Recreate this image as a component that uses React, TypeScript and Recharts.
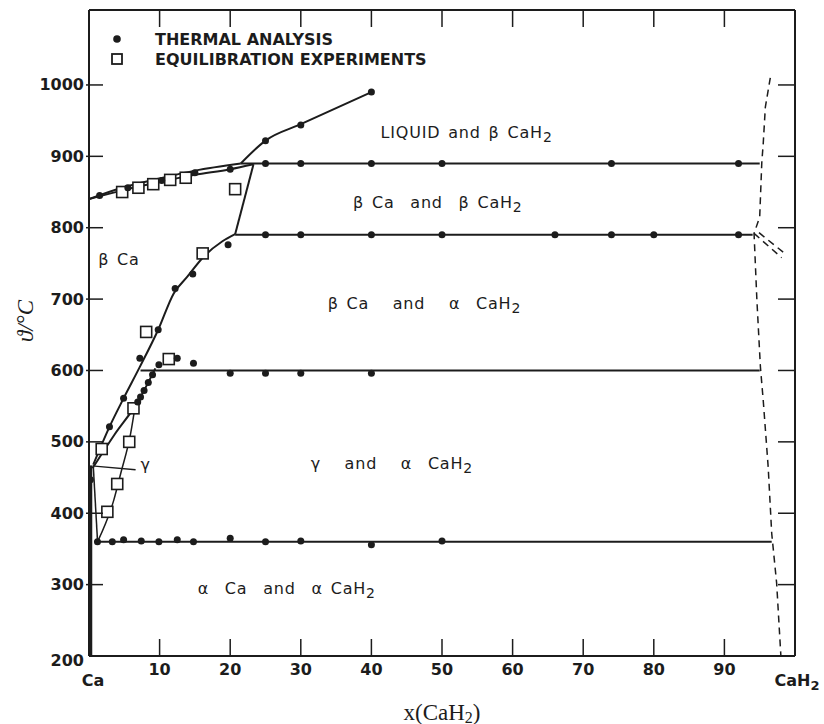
import React from 'react';
import { ComposedChart, Line, Scatter, XAxis, YAxis, Legend, ReferenceDot, Label } from 'recharts';

const INK = '#1c1c1c';
const SANS = '"DejaVu Sans", Verdana, sans-serif';
const SERIF = '"Liberation Serif", "DejaVu Serif", serif';

// composition in mol-% CaH2, temperature in °C
const xTicks = [0, 10, 20, 30, 40, 50, 60, 70, 80, 90, 100];
const yTicks = [200, 300, 400, 500, 600, 700, 800, 900, 1000];
const frameXTicks = [10, 20, 30, 40, 50, 60, 70, 80, 90];
const frameYTicks = [300, 400, 500, 600, 700, 800, 900, 1000];

// phase boundaries
const liquidusBeta = [
  { x: 0, t: 840 }, { x: 5, t: 857 }, { x: 10, t: 869 }, { x: 15, t: 880 }, { x: 21.5, t: 890 },
];
const solidusBeta = [
  { x: 0, t: 840 }, { x: 5, t: 853 }, { x: 10, t: 864 }, { x: 15, t: 874 }, { x: 20, t: 882 }, { x: 23.3, t: 889 },
];
const liquidusHydride = [
  { x: 21.5, t: 890 }, { x: 25, t: 922 }, { x: 30, t: 945 }, { x: 40, t: 990 },
];
const line890 = [{ x: 21.5, t: 890 }, { x: 95, t: 890 }];
const betaEdge = [{ x: 23.3, t: 889 }, { x: 20.7, t: 791 }];
const line790 = [{ x: 20.7, t: 790 }, { x: 94, t: 790 }];
const betaSolvus = [
  { x: 0.6, t: 468 }, { x: 2.9, t: 521 }, { x: 4.9, t: 561 }, { x: 7.2, t: 605 }, { x: 9.8, t: 657 },
  { x: 12, t: 708 }, { x: 13.9, t: 731 }, { x: 16.2, t: 759 }, { x: 18.9, t: 781 }, { x: 20.7, t: 791 },
];
const line600 = [{ x: 7.3, t: 600 }, { x: 95, t: 600 }];
const gammaUpper = [{ x: 0.5, t: 463 }, { x: 3.6, t: 510 }, { x: 6.9, t: 556 }, { x: 9.4, t: 603 }];
const gammaLower = [{ x: 1.3, t: 362 }, { x: 3.5, t: 418 }, { x: 4.5, t: 456 }, { x: 5.9, t: 512 }, { x: 6.6, t: 554 }];
const alphaEdge = [{ x: 0.6, t: 467 }, { x: 1.2, t: 362 }];
const alphaCa = [{ x: 0.25, t: 467 }, { x: 0.25, t: 200 }];
const gammaPointer = [{ x: 0.8, t: 466 }, { x: 6.6, t: 461 }];
const line360 = [{ x: 1.2, t: 360 }, { x: 96.7, t: 360 }];
const hydrideBoundary = [
  { x: 96.5, t: 1010 }, { x: 95.8, t: 969 }, { x: 95.5, t: 918 }, { x: 95.3, t: 892 }, { x: 95, t: 815 },
  { x: 94.2, t: 792 }, { x: 94.6, t: 699 }, { x: 95.1, t: 605 }, { x: 95.5, t: 558 }, { x: 96.2, t: 465 },
  { x: 96.7, t: 372 }, { x: 97.4, t: 302 }, { x: 98, t: 200 },
];
const hydrideFanA = [{ x: 94.2, t: 792 }, { x: 98.1, t: 758 }];
const hydrideFanB = [{ x: 94.9, t: 793 }, { x: 98.8, t: 762 }];

// measurements
const thermalAnalysis = [
  { x: 1.5, t: 845 }, { x: 5.5, t: 856 }, { x: 10.3, t: 866 }, { x: 15, t: 877 }, { x: 20, t: 882 },
  { x: 25, t: 922 }, { x: 30, t: 944 }, { x: 40, t: 990 },
  { x: 25, t: 890 }, { x: 30, t: 890 }, { x: 40, t: 890 }, { x: 50, t: 890 }, { x: 74, t: 890 }, { x: 92, t: 890 },
  { x: 25, t: 790 }, { x: 30, t: 790 }, { x: 40, t: 790 }, { x: 50, t: 790 }, { x: 66, t: 790 }, { x: 74, t: 790 },
  { x: 80, t: 790 }, { x: 92, t: 790 },
  { x: 19.7, t: 776 }, { x: 14.7, t: 735 }, { x: 12.2, t: 715 }, { x: 9.8, t: 657 }, { x: 7.2, t: 617 },
  { x: 4.9, t: 561 }, { x: 2.9, t: 521 },
  { x: 9.9, t: 608 }, { x: 12.5, t: 617 }, { x: 14.8, t: 610 },
  { x: 20, t: 596 }, { x: 25, t: 596 }, { x: 30, t: 596 }, { x: 40, t: 596 },
  { x: 9, t: 594 }, { x: 8.4, t: 583 }, { x: 7.8, t: 572 }, { x: 7.3, t: 563 }, { x: 6.9, t: 556 },
  { x: 0.2, t: 447 },
  { x: 1.2, t: 360 }, { x: 3.3, t: 360 }, { x: 4.9, t: 363 }, { x: 7.4, t: 361 }, { x: 9.9, t: 360 },
  { x: 12.5, t: 363 }, { x: 14.8, t: 360 }, { x: 20, t: 365 }, { x: 25, t: 360 }, { x: 30, t: 361 },
  { x: 40, t: 356 }, { x: 50, t: 361 },
];
const equilibration = [
  { x: 4.7, t: 850 }, { x: 7, t: 856 }, { x: 9.1, t: 861 }, { x: 11.5, t: 867 }, { x: 13.7, t: 870 },
  { x: 20.7, t: 854 }, { x: 16.1, t: 764 }, { x: 8.1, t: 654 }, { x: 11.3, t: 616 },
  { x: 6.3, t: 547 }, { x: 5.7, t: 500 }, { x: 4, t: 441 }, { x: 2.6, t: 402 }, { x: 1.8, t: 490 },
];

const Dot = (p: any) => <circle cx={p.cx} cy={p.cy} r={3.5} fill={INK} />;
const Box = (p: any) => (
  <rect x={p.cx - 5.5} y={p.cy - 5.5} width={11} height={11} fill="#fff" stroke={INK} strokeWidth={1.6} />
);

const tickText = { fontFamily: SANS, fontSize: 16, fontWeight: 'bold' as const, fill: INK };

function LeftTick(props: any) {
  const { x, y, payload } = props;
  return (
    <g>
      {payload.value > 200 && <line x1={x - 3} x2={x + 14} y1={y} y2={y} stroke={INK} strokeWidth={1.5} />}
      <text x={x - 5} y={payload.value === 200 ? y + 4 : y} textAnchor="end" dominantBaseline="central" {...tickText}>
        {payload.value}
      </text>
    </g>
  );
}

function BottomTick(props: any) {
  const { x, y, payload } = props;
  const v = payload.value;
  if (v === 0) {
    return <text x={x + 4} y={y + 24} textAnchor="middle" dominantBaseline="central" {...tickText}>Ca</text>;
  }
  if (v === 100) {
    return (
      <text x={x + 2} y={y + 24} textAnchor="middle" dominantBaseline="central" {...tickText}>
        CaH<tspan dy={5} fontSize={13}>2</tspan>
      </text>
    );
  }
  return (
    <g>
      <line x1={x} x2={x} y1={y} y2={y - 17} stroke={INK} strokeWidth={1.5} />
      <text x={x} y={y + 13} textAnchor="middle" dominantBaseline="central" {...tickText}>{v}</text>
    </g>
  );
}

const TopTick = (p: any) => <line x1={p.x} x2={p.x} y1={p.y} y2={p.y + 17} stroke={INK} strokeWidth={1.5} />;
const RightTick = (p: any) => <line x1={p.x} x2={p.x - 17} y1={p.y} y2={p.y} stroke={INK} strokeWidth={1.5} />;

// hand-lettered region names; runs of spaces are kept as drawn
function RegionText({ cx, cy, text, sub }: { cx?: number; cy?: number; text: string; sub?: string }) {
  return (
    <text x={cx} y={cy} dominantBaseline="central" fontFamily={SANS} fontSize={16} fill={INK}
      letterSpacing={0.8} wordSpacing={2} style={{ whiteSpace: 'pre' }}>
      {text}
      {sub && <tspan dy={5} fontSize={14}>{sub}</tspan>}
    </text>
  );
}

function LegendBox() {
  const row = { display: 'flex', alignItems: 'center', height: 20 };
  const txt = { fontFamily: SANS, fontSize: 16, fontWeight: 'bold' as const, color: INK, marginLeft: 29, whiteSpace: 'nowrap' as const };
  return (
    <div>
      <div style={row}>
        <svg width={18} height={20}><circle cx={9} cy={10} r={3.8} fill={INK} /></svg>
        <span style={txt}>THERMAL ANALYSIS</span>
      </div>
      <div style={row}>
        <svg width={18} height={20}><rect x={4} y={5} width={10} height={10} fill="#fff" stroke={INK} strokeWidth={1.8} /></svg>
        <span style={txt}>EQUILIBRATION EXPERIMENTS</span>
      </div>
    </div>
  );
}

const solid = { stroke: INK, strokeWidth: 2, dot: false, activeDot: false, isAnimationActive: false } as const;
const dashed = { ...solid, strokeWidth: 1.5, strokeDasharray: '7 5' } as const;

export default function App() {
  return (
    <div style={{ position: 'absolute', left: 0, top: 0, background: '#fff' }}>
      <ComposedChart width={824} height={724} margin={{ top: 9, right: 28, bottom: 28, left: 29 }}>
        <XAxis
          type="number" dataKey="x" domain={[0, 100]} ticks={xTicks} interval={0} allowDataOverflow
          tickSize={0} tickMargin={0} tickLine={false} height={40}
          axisLine={{ stroke: INK, strokeWidth: 2 }} tick={<BottomTick />}
        >
          <Label
            content={(p: any) => (
              <text x={p.viewBox.x + p.viewBox.width / 2} y={p.viewBox.y + 56} textAnchor="middle"
                dominantBaseline="central" fontFamily={SERIF} fontSize={23} fill={INK}>
                x(CaH<tspan dy={5} fontSize={16}>2</tspan><tspan dy={-5}>)</tspan>
              </text>
            )}
          />
        </XAxis>
        <XAxis
          xAxisId="top" orientation="top" type="number" dataKey="x" domain={[0, 100]} ticks={frameXTicks}
          interval={0} allowDataOverflow tickSize={0} tickMargin={0} tickLine={false} height={1}
          axisLine={{ stroke: INK, strokeWidth: 2 }} tick={<TopTick />}
        />
        <YAxis
          type="number" dataKey="t" domain={[200, 1105]} ticks={yTicks} interval={0} allowDataOverflow
          tickSize={0} tickMargin={0} tickLine={false} width={60}
          axisLine={{ stroke: INK, strokeWidth: 2 }} tick={<LeftTick />}
        >
          <Label
            content={(p: any) => {
              const cx = p.viewBox.x - 4;
              const cy = p.viewBox.y + p.viewBox.height / 2 - 12;
              return (
                <text x={cx} y={cy} transform={`rotate(-90 ${cx} ${cy})`} textAnchor="middle"
                  dominantBaseline="central" fontFamily={SERIF} fontStyle="italic" fontSize={23} fill={INK}>
                  ϑ/°C
                </text>
              );
            }}
          />
        </YAxis>
        <YAxis
          yAxisId="right" orientation="right" type="number" dataKey="t" domain={[200, 1105]} ticks={frameYTicks}
          interval={0} allowDataOverflow tickSize={0} tickMargin={0} tickLine={false} width={1}
          axisLine={{ stroke: INK, strokeWidth: 2 }} tick={<RightTick />}
        />

        <Legend
          layout="horizontal" verticalAlign="middle" align="center" content={<LegendBox />}
          wrapperStyle={{ left: 108, top: 29, width: 'auto' }}
        />

        <Line data={liquidusBeta} dataKey="t" type="monotone" {...solid} />
        <Line data={solidusBeta} dataKey="t" type="monotone" {...solid} />
        <Line data={liquidusHydride} dataKey="t" type="monotone" {...solid} />
        <Line data={line890} dataKey="t" type="linear" {...solid} />
        <Line data={betaEdge} dataKey="t" type="linear" {...solid} />
        <Line data={line790} dataKey="t" type="linear" {...solid} />
        <Line data={betaSolvus} dataKey="t" type="monotone" {...solid} />
        <Line data={line600} dataKey="t" type="linear" {...solid} />
        <Line data={gammaUpper} dataKey="t" type="monotone" {...solid} />
        <Line data={gammaLower} dataKey="t" type="monotone" {...solid} strokeWidth={1.5} />
        <Line data={alphaEdge} dataKey="t" type="linear" {...solid} strokeWidth={1.5} />
        <Line data={alphaCa} dataKey="t" type="linear" {...solid} strokeWidth={3} />
        <Line data={gammaPointer} dataKey="t" type="linear" {...solid} strokeWidth={1.5} />
        <Line data={line360} dataKey="t" type="linear" {...solid} />
        <Line data={hydrideBoundary} dataKey="t" type="linear" {...dashed} />
        <Line data={hydrideFanA} dataKey="t" type="linear" {...dashed} />
        <Line data={hydrideFanB} dataKey="t" type="linear" {...dashed} />

        <Scatter data={equilibration} shape={<Box />} isAnimationActive={false} />
        <Scatter data={thermalAnalysis} shape={<Dot />} isAnimationActive={false} />

        <ReferenceDot x={41.3} y={934} r={0} shape={<RegionText text="LIQUID and β CaH" sub="2" />} />
        <ReferenceDot x={37.4} y={836} r={0} shape={<RegionText text="β Ca  and  β CaH" sub="2" />} />
        <ReferenceDot x={33.8} y={694} r={0} shape={<RegionText text="β Ca   and   α  CaH" sub="2" />} />
        <ReferenceDot x={1.3} y={755} r={0} shape={<RegionText text="β Ca" />} />
        <ReferenceDot x={7.3} y={468} r={0} shape={<RegionText text="γ" />} />
        <ReferenceDot x={31.4} y={470} r={0} shape={<RegionText text="γ   and   α  CaH" sub="2" />} />
        <ReferenceDot x={15.4} y={295} r={0} shape={<RegionText text="α  Ca  and  α CaH" sub="2" />} />
      </ComposedChart>
    </div>
  );
}
